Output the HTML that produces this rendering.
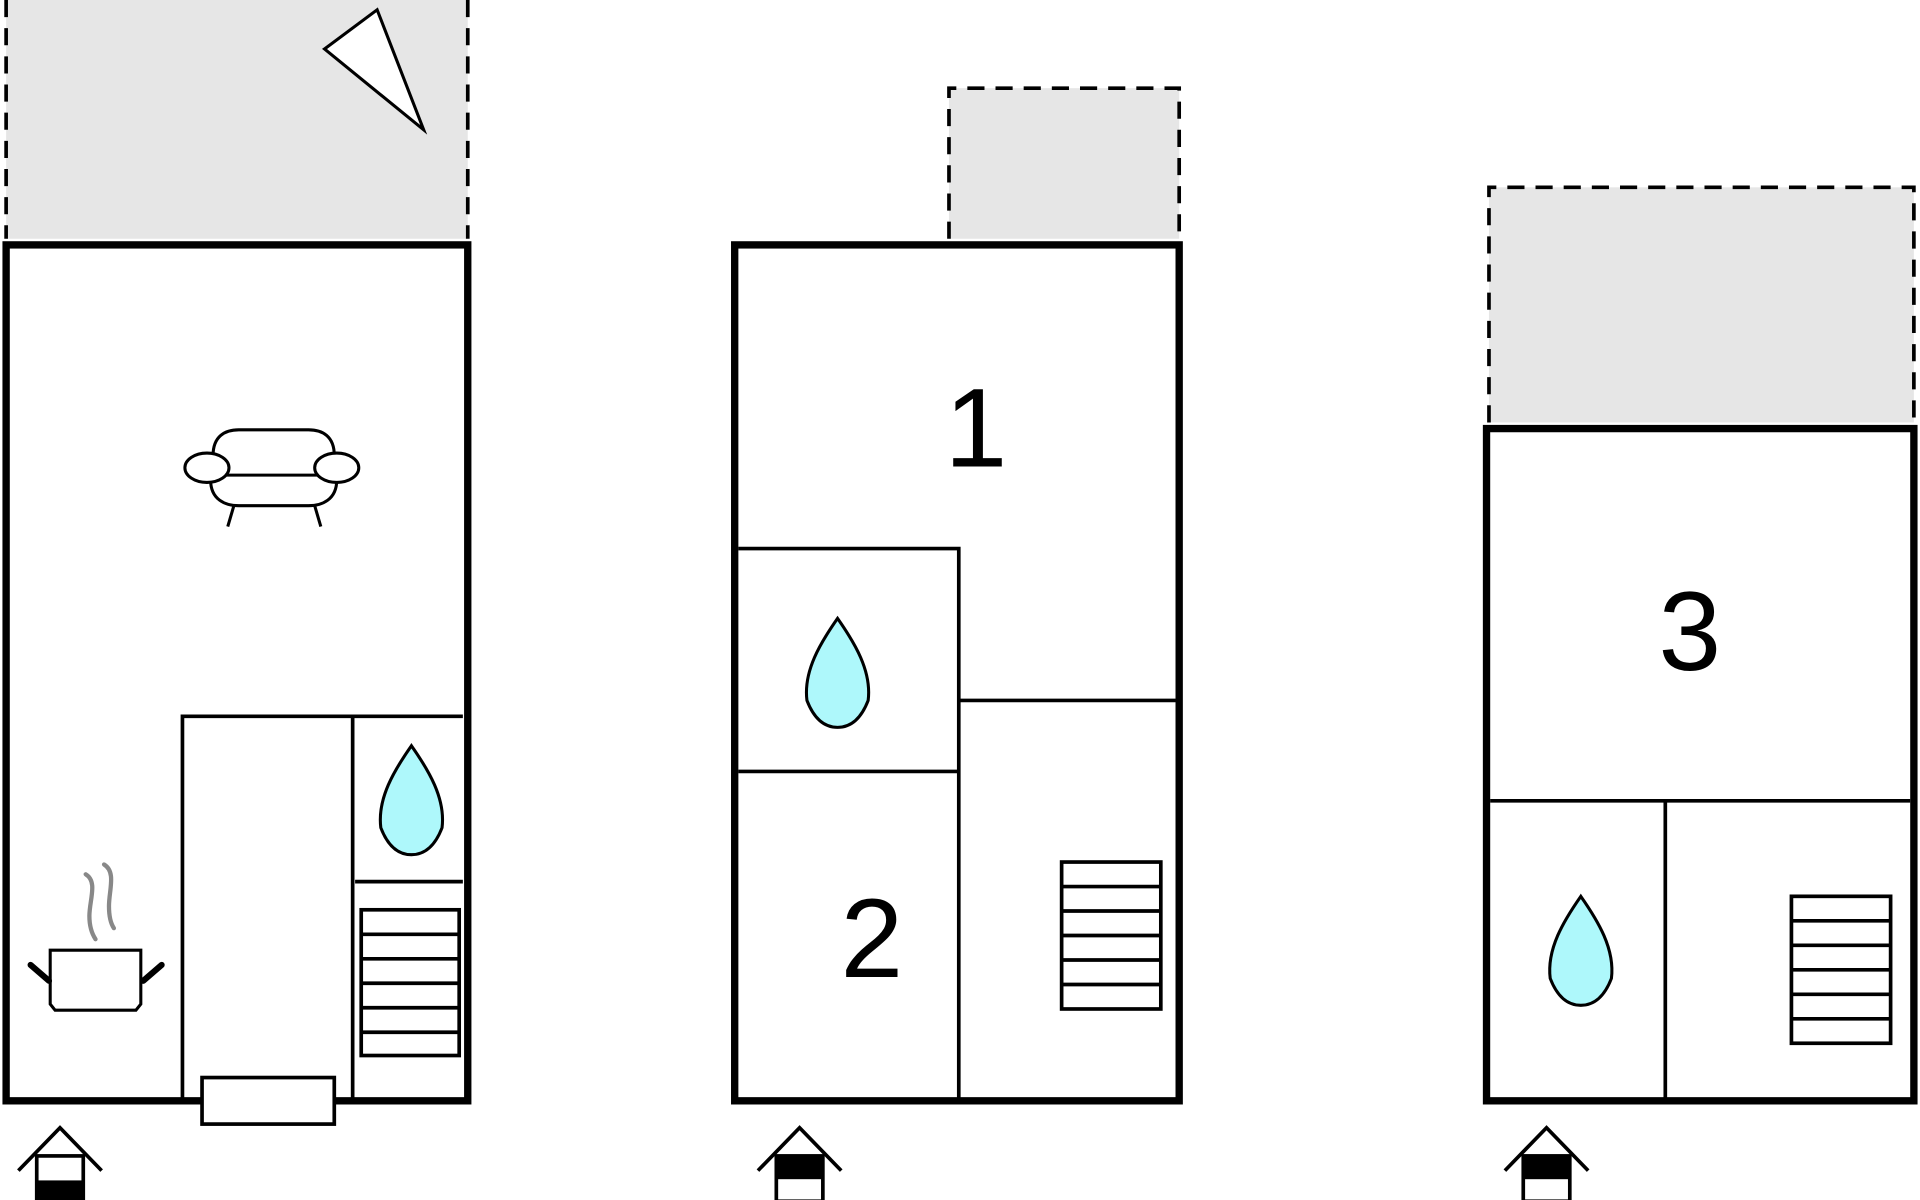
<!DOCTYPE html>
<html><head><meta charset="utf-8"><style>
html,body{margin:0;padding:0;background:#fff;width:1920px;height:1200px;overflow:hidden}
svg{display:block}
text{font-family:"Liberation Sans",Arial,sans-serif}
</style></head><body>
<svg width="1920" height="1200" viewBox="0 0 1568 980" xmlns="http://www.w3.org/2000/svg">
<defs>
<g id="drop"><path d="M0,-45 C-14,-25 -28,-2 -25,22 C-20,35 -12,44 0,44 C12,44 20,35 25,22 C28,-2 14,-25 0,-45 Z" fill="#aef8fb" stroke="#000" stroke-width="2.5"/></g>
<g id="entry" stroke="#000" stroke-width="3" fill="none"><path d="M-34,35 L0,0 L34,35"/><rect x="-19" y="23" width="38" height="37" fill="#fff"/></g>
</defs>
<!-- LEFT -->
<rect x="5" y="-5" width="377" height="200" fill="#e6e6e6"/>
<line x1="5" y1="0" x2="5" y2="195" stroke="#000" stroke-width="3" stroke-dasharray="14,9"/>
<line x1="382" y1="0" x2="382" y2="195" stroke="#000" stroke-width="3" stroke-dasharray="14,9"/>
<polygon points="265,40 308,8 346,106" fill="#fff" stroke="#000" stroke-width="2.5"/>
<rect x="5" y="200" width="377" height="699" fill="#fff" stroke="#000" stroke-width="6"/>
<g stroke="#000" stroke-width="3" fill="none">
<polyline points="149,899 149,585 378,585"/>
<line x1="288" y1="585" x2="288" y2="899"/>
<line x1="290" y1="720" x2="378" y2="720"/>
<rect x="295" y="743" width="80" height="119"/>
<line x1="295" y1="763" x2="375" y2="763"/><line x1="295" y1="783" x2="375" y2="783"/><line x1="295" y1="803" x2="375" y2="803"/><line x1="295" y1="823" x2="375" y2="823"/><line x1="295" y1="843" x2="375" y2="843"/>
</g>
<rect x="165" y="880" width="108" height="38" fill="#fff" stroke="#000" stroke-width="3"/>
<use href="#drop" x="336" y="654"/>
<!-- sofa -->
<g stroke="#000" stroke-width="2.5" fill="#fff">
<path d="M174,372 C174,356 184,351 195,351 L252,351 C263,351 273,356 273,372"/>
<path d="M172,392 C172,408 184,413 195,413 L252,413 C263,413 275,408 275,392"/>
<line x1="185" y1="388" x2="260" y2="388"/>
<ellipse cx="169" cy="382" rx="18" ry="12"/>
<ellipse cx="275" cy="382" rx="18" ry="12"/>
<line x1="191" y1="413" x2="186" y2="430"/><line x1="257" y1="413" x2="262" y2="430"/>
</g>
<!-- pot -->
<g stroke="#888" stroke-width="3.5" fill="none" stroke-linecap="round">
<path d="M70,714 C80,720 73,735 73,748 C73,758 76,764 78,767"/>
<path d="M85,706 C95,712 89,727 89,740 C89,750 91,755 93,758"/>
</g>
<g stroke="#000" stroke-width="2.5" fill="#fff">
<path d="M41,776 L115,776 L115,820 L111,825 L45,825 L41,820 Z"/>
</g>
<g stroke="#000" stroke-width="5" stroke-linecap="round"><line x1="25" y1="788" x2="40" y2="801"/><line x1="132" y1="788" x2="117" y2="801"/></g>
<use href="#entry" x="49" y="921"/>
<rect x="30" y="964" width="38" height="16" fill="#000"/>
<!-- MIDDLE -->
<rect x="775" y="72" width="188" height="123" fill="#e6e6e6"/>
<path d="M775,195 L775,72 L963,72 L963,195" fill="none" stroke="#000" stroke-width="3" stroke-dasharray="14,9"/>
<rect x="600" y="200" width="363" height="699" fill="#fff" stroke="#000" stroke-width="6"/>
<g stroke="#000" stroke-width="3" fill="none">
<polyline points="603,448 783,448 783,899"/>
<line x1="783" y1="572" x2="960" y2="572"/>
<line x1="603" y1="630" x2="783" y2="630"/>
<rect x="867" y="704" width="81" height="120"/>
<line x1="867" y1="724" x2="948" y2="724"/><line x1="867" y1="744" x2="948" y2="744"/><line x1="867" y1="764" x2="948" y2="764"/><line x1="867" y1="784" x2="948" y2="784"/><line x1="867" y1="804" x2="948" y2="804"/>
</g>
<use href="#drop" x="684" y="550"/>
<text x="797" y="381" font-size="92" text-anchor="middle">1</text>
<text x="712" y="798" font-size="92" text-anchor="middle">2</text>
<use href="#entry" x="653" y="921"/>
<rect x="634" y="944" width="38" height="19" fill="#000"/>
<!-- RIGHT -->
<rect x="1216" y="153" width="347" height="192" fill="#e6e6e6"/>
<path d="M1216,345 L1216,153 L1563,153 L1563,345" fill="none" stroke="#000" stroke-width="3" stroke-dasharray="14,9"/>
<rect x="1214" y="350" width="349" height="549" fill="#fff" stroke="#000" stroke-width="6"/>
<g stroke="#000" stroke-width="3" fill="none">
<line x1="1217" y1="654" x2="1560" y2="654"/>
<line x1="1360" y1="654" x2="1360" y2="899"/>
<rect x="1463" y="732" width="81" height="120"/>
<line x1="1463" y1="752" x2="1544" y2="752"/><line x1="1463" y1="772" x2="1544" y2="772"/><line x1="1463" y1="792" x2="1544" y2="792"/><line x1="1463" y1="812" x2="1544" y2="812"/><line x1="1463" y1="832" x2="1544" y2="832"/>
</g>
<use href="#drop" x="1291" y="777"/>
<text x="1380" y="547" font-size="92" text-anchor="middle">3</text>
<use href="#entry" x="1263" y="921"/>
<rect x="1244" y="944" width="38" height="19" fill="#000"/>
</svg>
</body></html>
